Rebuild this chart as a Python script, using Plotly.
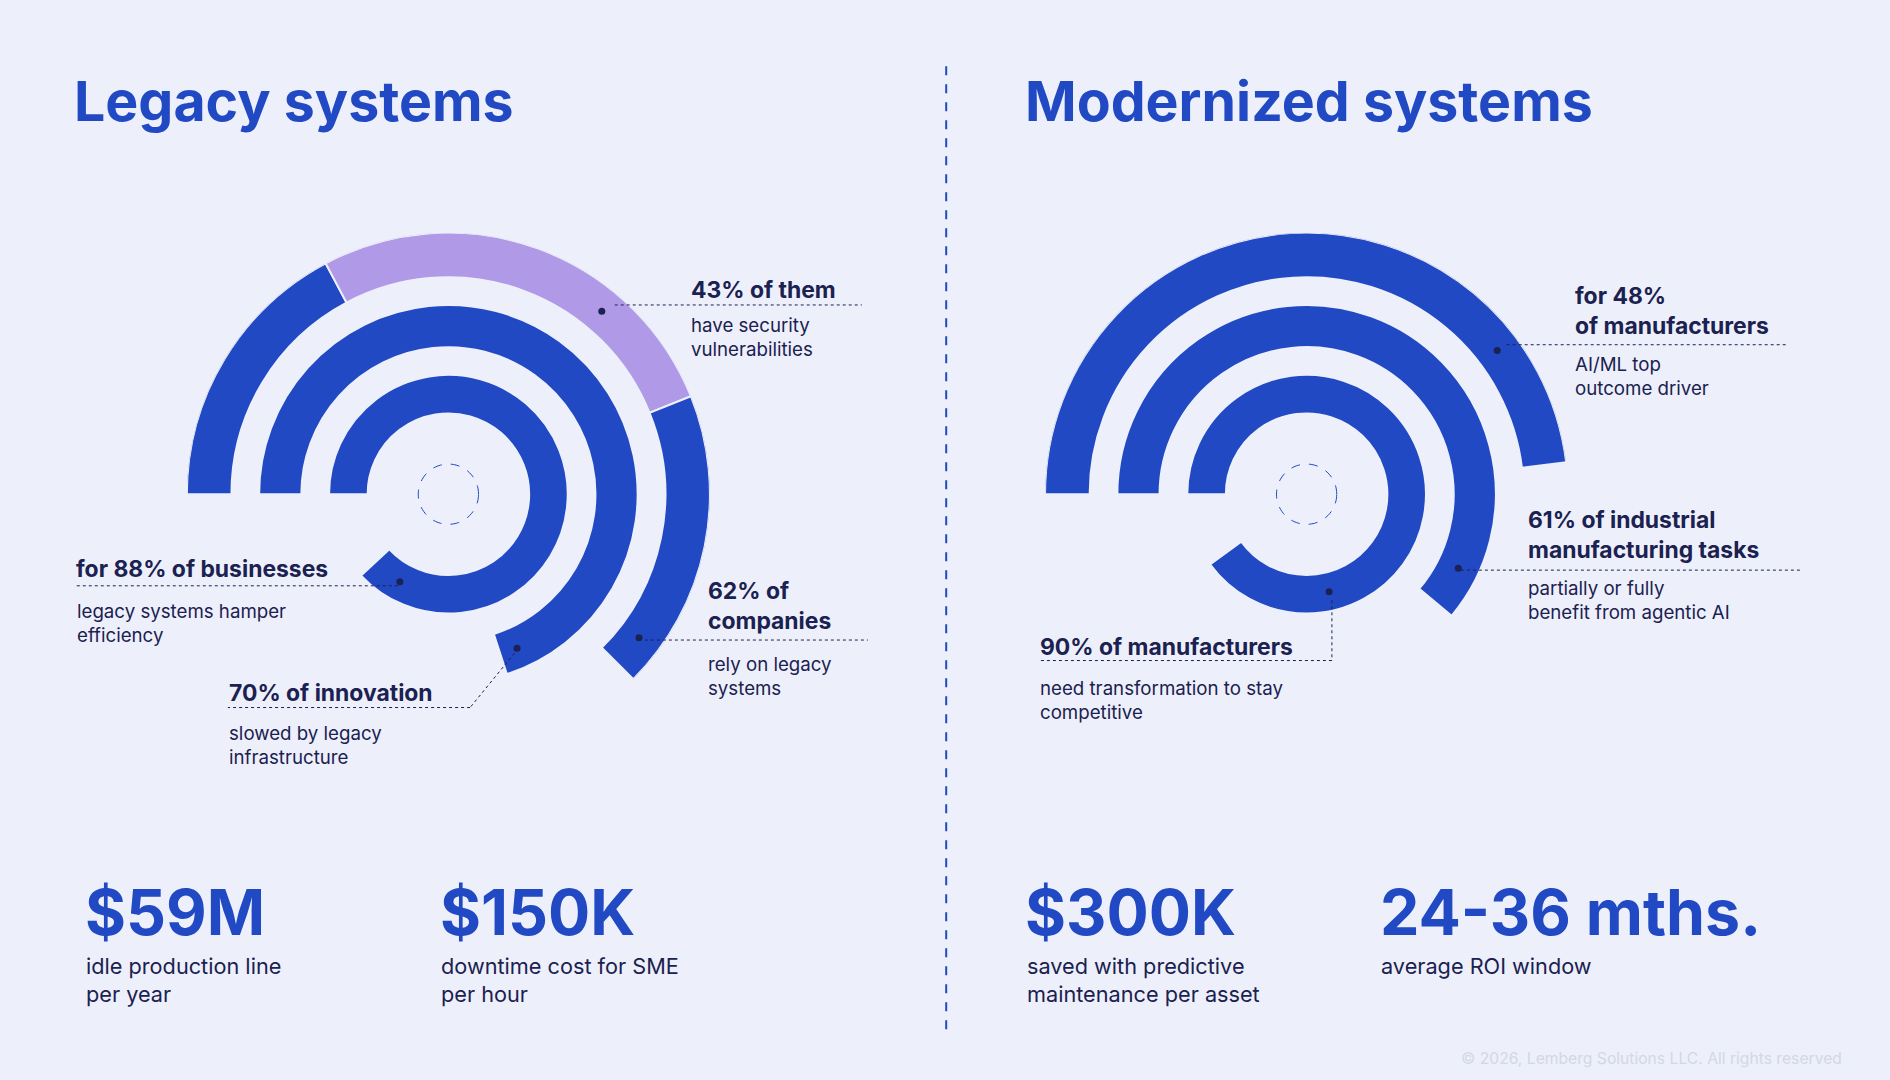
import plotly.graph_objects as go

W, H = 1890, 1080
S = W / 1568  # reference measured at 1568 px wide

BG = "#EDF0FA"
BLUE = "#2249C4"
LAVENDER = "#B09AE8"
DARK = "#1B2150"
FONT = "Inter"

# ring geometry (radius in 1568-scale px): inner, outer
rings = [(67, 99), (122, 157), (180, 217)]

# arcs: (ring index, start angle, end angle, colour) angles counter-clockwise from east
legacy_arcs = [
    (2, 180, 118, BLUE), (2, 118, 22, LAVENDER), (2, 22, -45, BLUE),
    (1, 180, -72, BLUE),
    (0, 180, -137, BLUE),
]
modern_arcs = [
    (2, 180, 7, BLUE),
    (1, 180, -40, BLUE),
    (0, 180, -144, BLUE),
]
legacy_dots_r = [198, 198, 83, 140]
legacy_dots_t = [50, -37, 241, -66]
modern_dots_r = [198, 140, 83]
modern_dots_t = [37, -26, -77]

def px(x):
    return x / 1568

def py(y):
    return 1 - y / 896

fig = go.Figure()

def add_chart(name, cx, cy, arcs, dr, dt):
    R = 217
    fig.add_trace(go.Barpolar(
        r=[rings[i][1] - rings[i][0] for i, a, b, c in arcs],
        base=[rings[i][0] for i, a, b, c in arcs],
        theta=[(a + b) / 2 for i, a, b, c in arcs],
        width=[abs(a - b) for i, a, b, c in arcs],
        marker=dict(color=[c for i, a, b, c in arcs], line=dict(color=BG, width=2)),
        subplot=name, showlegend=False, hoverinfo="skip"))
    fig.add_trace(go.Scatterpolar(
        r=[25] * 73, theta=list(range(0, 361, 5)), mode="lines",
        line=dict(color=BLUE, width=1, dash="dash"),
        subplot=name, showlegend=False, hoverinfo="skip"))
    fig.add_trace(go.Scatterpolar(
        r=dr, theta=dt, mode="markers", marker=dict(color=DARK, size=7),
        subplot=name, showlegend=False, hoverinfo="skip"))
    fig.update_layout(**{name: dict(
        domain=dict(x=[px(cx - R), px(cx + R)], y=[py(cy + R), py(cy - R)]),
        bgcolor="rgba(0,0,0,0)",
        radialaxis=dict(visible=False, range=[0, R]),
        angularaxis=dict(visible=False, rotation=0, direction="counterclockwise"),
        hole=0)})

add_chart("polar", 372, 410, legacy_arcs, legacy_dots_r, legacy_dots_t)
add_chart("polar2", 1084, 410, modern_arcs, modern_dots_r, modern_dots_t)

def text(x, y, s, size, color=DARK, bold=False, yanchor="top", xanchor="left", align="left"):
    fig.add_annotation(x=px(x), y=py(y), xref="paper", yref="paper", text=s,
                       showarrow=False, xanchor=xanchor, yanchor=yanchor, align=align,
                       font=dict(family=FONT, size=size * S, color=color,
                                 weight=700 if bold else 400))

def leader(pts):
    for (x0, y0), (x1, y1) in zip(pts[:-1], pts[1:]):
        fig.add_shape(type="line", xref="paper", yref="paper",
                      x0=px(x0), y0=py(y0), x1=px(x1), y1=py(y1),
                      line=dict(color=DARK, width=1, dash="dot"))

# titles
text(60, 83, "Legacy systems", 46, BLUE, True, "middle")
text(849, 83, "Modernized systems", 46, BLUE, True, "middle")

# divider
fig.add_shape(type="line", xref="paper", yref="paper", x0=px(785), x1=px(785),
              y0=py(55), y1=py(860), line=dict(color=BLUE, width=2, dash="dash"))

# legacy labels
leader([(510, 253), (715, 253)])
text(572, 241, "43% of them", 19, bold=True, yanchor="middle")
text(572, 259, "have security<br>vulnerabilities", 15.5)
leader([(535, 531), (720, 531)])
text(586, 477, "62% of<br>companies", 19, bold=True)
text(586, 540, "rely on legacy<br>systems", 15.5)
leader([(330, 486), (62, 486)])
text(61, 472, "for 88% of businesses", 19, bold=True, yanchor="middle")
text(62, 496, "legacy systems hamper<br>efficiency", 15.5)
leader([(430, 538), (390, 587), (189, 587)])
text(188, 575, "70% of innovation", 19, bold=True, yanchor="middle")
text(188, 597, "slowed by legacy<br>infrastructure", 15.5)

# modern labels
leader([(1250, 286), (1483, 286)])
text(1305, 232, "for 48%<br>of manufacturers", 19, bold=True)
text(1305, 291, "AI/ML top<br>outcome driver", 15.5)
leader([(1212, 473), (1495, 473)])
text(1266, 418, "61% of industrial<br>manufacturing tasks", 19, bold=True)
text(1266, 477, "partially or fully<br>benefit from agentic AI", 15.5)
leader([(1105, 498), (1105, 548), (862, 548)])
text(861, 537, "90% of manufacturers", 19, bold=True, yanchor="middle")
text(861, 560, "need transformation to stay<br>competitive", 15.5)

# stats
stat_x = [69, 363, 849, 1143]
stat_values = ["$59M", "$150K", "$300K", "24-36 mths."]
stat_labels = ["idle production line<br>per year", "downtime cost for SME<br>per hour",
               "saved with predictive<br>maintenance per asset", "average ROI window"]
for x, v, l in zip(stat_x, stat_values, stat_labels):
    text(x, 757, v, 52, BLUE, True, "middle")
    text(x + 1, 789, l, 18)

text(1530, 878, "© 2026, Lemberg Solutions LLC. All rights reserved", 13, "#D3D7E6",
     yanchor="middle", xanchor="right")

fig.update_layout(width=W, height=H, margin=dict(l=0, r=0, t=0, b=0),
                  paper_bgcolor=BG, plot_bgcolor=BG)
fig.write_html("out.html", config={"displayModeBar": False})

# drop the browser's default page margin
with open("out.html", encoding="utf-8") as f:
    page = f.read()
page = page.replace("<body>", '<body style="margin:0;background:%s">' % BG, 1)
with open("out.html", "w", encoding="utf-8") as f:
    f.write(page)
